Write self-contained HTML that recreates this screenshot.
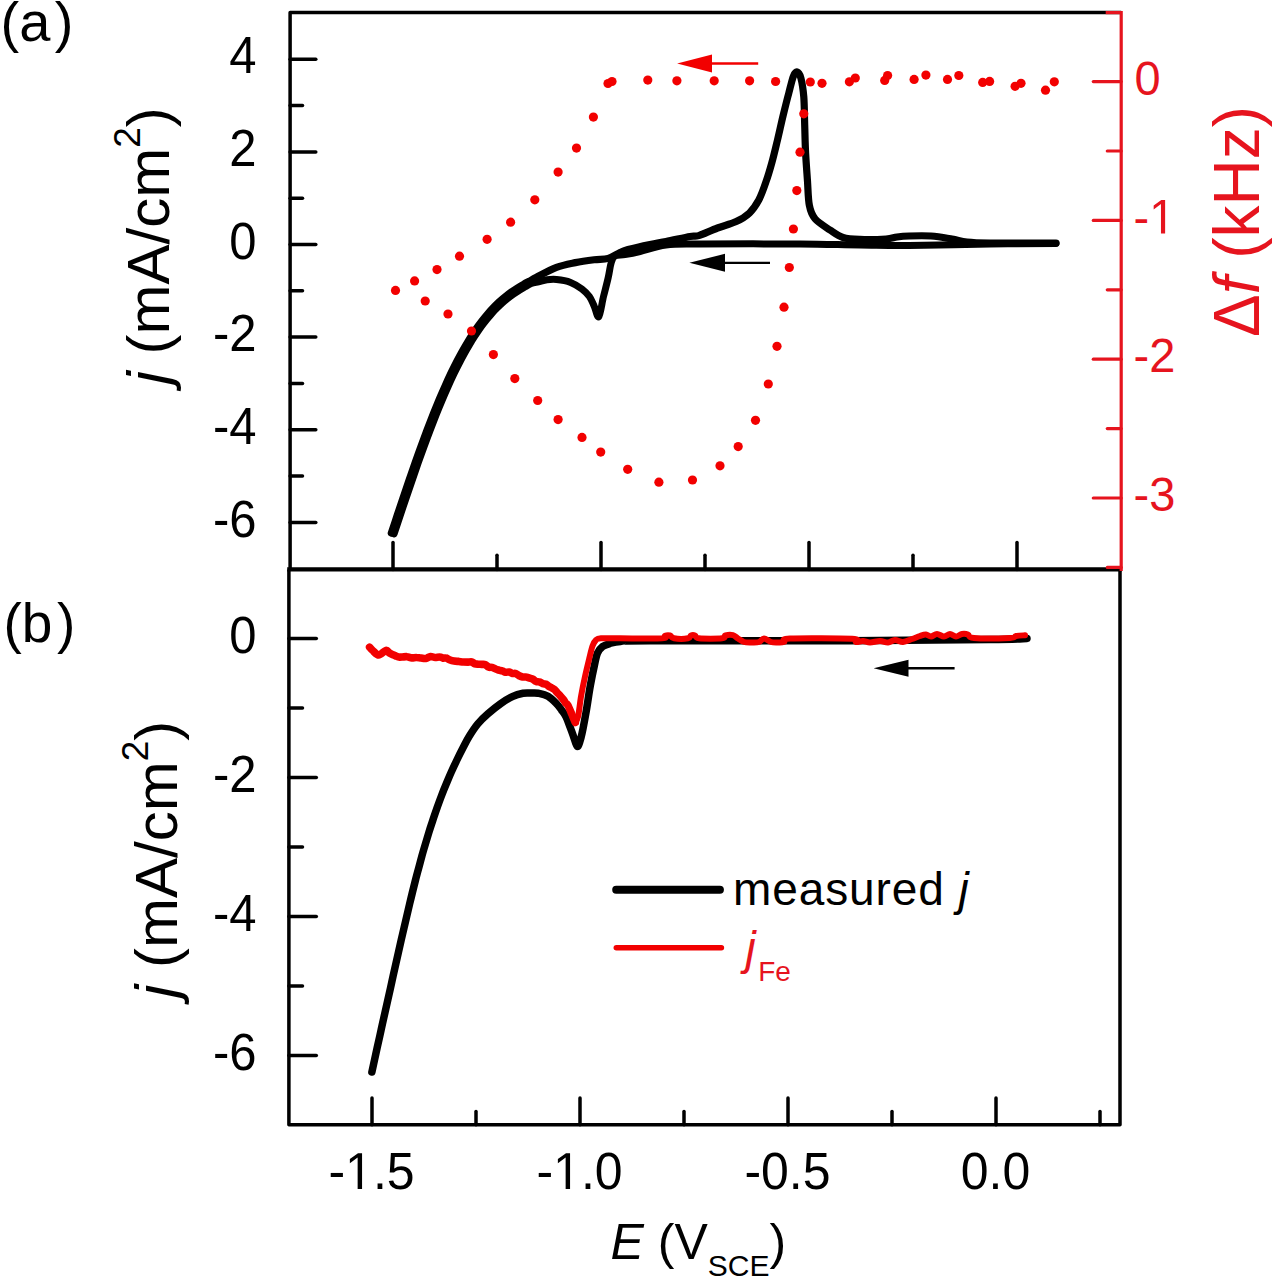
<!DOCTYPE html>
<html><head><meta charset="utf-8"><style>
html,body{margin:0;padding:0;background:#fff;}
svg{display:block;font-family:"Liberation Sans",sans-serif;}
</style></head><body>
<svg width="1275" height="1280" viewBox="0 0 1275 1280">
<rect width="1275" height="1280" fill="#fff"/>
<path d="M290.1,569.4 L290.1,12.6 L1121.2,12.6" fill="none" stroke="#000" stroke-width="3.5" stroke-linejoin="round" stroke-linecap="butt"/>
<path d="M288.9,569.4 L288.9,1124.8 L1120.0,1124.8 L1120.0,569.4" fill="none" stroke="#000" stroke-width="3.5" stroke-linejoin="round" stroke-linecap="butt"/>
<line x1="287.2" y1="569.4" x2="1121.7" y2="569.4" stroke="#000" stroke-width="4.3" stroke-linecap="butt"/>
<line x1="1121.2" y1="11.0" x2="1121.2" y2="571.0" stroke="#e6141e" stroke-width="3.2" stroke-linecap="butt"/>
<line x1="290.1" y1="522.4" x2="315.8" y2="522.4" stroke="#000" stroke-width="3.5" stroke-linecap="round"/>
<line x1="290.1" y1="476.1" x2="302.5" y2="476.1" stroke="#000" stroke-width="3.5" stroke-linecap="round"/>
<line x1="290.1" y1="429.8" x2="315.8" y2="429.8" stroke="#000" stroke-width="3.5" stroke-linecap="round"/>
<line x1="290.1" y1="383.5" x2="302.5" y2="383.5" stroke="#000" stroke-width="3.5" stroke-linecap="round"/>
<line x1="290.1" y1="337.1" x2="315.8" y2="337.1" stroke="#000" stroke-width="3.5" stroke-linecap="round"/>
<line x1="290.1" y1="290.8" x2="302.5" y2="290.8" stroke="#000" stroke-width="3.5" stroke-linecap="round"/>
<line x1="290.1" y1="244.5" x2="315.8" y2="244.5" stroke="#000" stroke-width="3.5" stroke-linecap="round"/>
<line x1="290.1" y1="198.2" x2="302.5" y2="198.2" stroke="#000" stroke-width="3.5" stroke-linecap="round"/>
<line x1="290.1" y1="151.9" x2="315.8" y2="151.9" stroke="#000" stroke-width="3.5" stroke-linecap="round"/>
<line x1="290.1" y1="105.5" x2="302.5" y2="105.5" stroke="#000" stroke-width="3.5" stroke-linecap="round"/>
<line x1="290.1" y1="59.2" x2="315.8" y2="59.2" stroke="#000" stroke-width="3.5" stroke-linecap="round"/>
<text transform="translate(229.25,73.42) scale(1,1.04)" font-size="49" fill="#000">4</text>
<text transform="translate(229.25,166.06) scale(1,1.04)" font-size="49" fill="#000">2</text>
<text transform="translate(229.25,258.70) scale(1,1.04)" font-size="49" fill="#000">0</text>
<text transform="translate(212.93,351.34) scale(1,1.04)" font-size="49" fill="#000">-2</text>
<text transform="translate(212.93,443.98) scale(1,1.04)" font-size="49" fill="#000">-4</text>
<text transform="translate(212.93,536.62) scale(1,1.04)" font-size="49" fill="#000">-6</text>
<line x1="393.0" y1="569.4" x2="393.0" y2="542.5" stroke="#000" stroke-width="3.5" stroke-linecap="round"/>
<line x1="497.0" y1="569.4" x2="497.0" y2="555.2" stroke="#000" stroke-width="3.5" stroke-linecap="round"/>
<line x1="601.0" y1="569.4" x2="601.0" y2="542.5" stroke="#000" stroke-width="3.5" stroke-linecap="round"/>
<line x1="705.0" y1="569.4" x2="705.0" y2="555.2" stroke="#000" stroke-width="3.5" stroke-linecap="round"/>
<line x1="809.0" y1="569.4" x2="809.0" y2="542.5" stroke="#000" stroke-width="3.5" stroke-linecap="round"/>
<line x1="913.0" y1="569.4" x2="913.0" y2="555.2" stroke="#000" stroke-width="3.5" stroke-linecap="round"/>
<line x1="1017.0" y1="569.4" x2="1017.0" y2="542.5" stroke="#000" stroke-width="3.5" stroke-linecap="round"/>
<line x1="1121.2" y1="567.4" x2="1107.3" y2="567.4" stroke="#e6141e" stroke-width="3.2" stroke-linecap="round"/>
<line x1="1121.2" y1="498.0" x2="1093.3" y2="498.0" stroke="#e6141e" stroke-width="3.2" stroke-linecap="round"/>
<line x1="1121.2" y1="428.6" x2="1107.3" y2="428.6" stroke="#e6141e" stroke-width="3.2" stroke-linecap="round"/>
<line x1="1121.2" y1="359.2" x2="1093.3" y2="359.2" stroke="#e6141e" stroke-width="3.2" stroke-linecap="round"/>
<line x1="1121.2" y1="289.8" x2="1107.3" y2="289.8" stroke="#e6141e" stroke-width="3.2" stroke-linecap="round"/>
<line x1="1121.2" y1="220.4" x2="1093.3" y2="220.4" stroke="#e6141e" stroke-width="3.2" stroke-linecap="round"/>
<line x1="1121.2" y1="151.0" x2="1107.3" y2="151.0" stroke="#e6141e" stroke-width="3.2" stroke-linecap="round"/>
<line x1="1121.2" y1="81.6" x2="1093.3" y2="81.6" stroke="#e6141e" stroke-width="3.2" stroke-linecap="round"/>
<line x1="1121.2" y1="12.6" x2="1105.7" y2="12.6" stroke="#e6141e" stroke-width="3.2" stroke-linecap="butt"/>
<text transform="translate(1134.50,94.80) scale(1,1.04)" font-size="47" fill="#e6141e">0</text>
<text transform="translate(1133.50,233.60) scale(1,1.04)" font-size="47" fill="#e6141e">-</text>
<path transform="translate(1149.15,233.60) scale(0.02295,-0.02387)" d="M515,0 L515,1237 L197,1010 L197,1180 L530,1409 L696,1409 L696,0 Z" fill="#e6141e"/>
<text transform="translate(1133.50,372.40) scale(1,1.04)" font-size="47" fill="#e6141e">-2</text>
<text transform="translate(1133.50,511.20) scale(1,1.04)" font-size="47" fill="#e6141e">-3</text>
<line x1="288.9" y1="1055.4" x2="316.3" y2="1055.4" stroke="#000" stroke-width="3.5" stroke-linecap="round"/>
<line x1="288.9" y1="985.9" x2="302.5" y2="985.9" stroke="#000" stroke-width="3.5" stroke-linecap="round"/>
<line x1="288.9" y1="916.4" x2="316.3" y2="916.4" stroke="#000" stroke-width="3.5" stroke-linecap="round"/>
<line x1="288.9" y1="846.9" x2="302.5" y2="846.9" stroke="#000" stroke-width="3.5" stroke-linecap="round"/>
<line x1="288.9" y1="777.5" x2="316.3" y2="777.5" stroke="#000" stroke-width="3.5" stroke-linecap="round"/>
<line x1="288.9" y1="708.0" x2="302.5" y2="708.0" stroke="#000" stroke-width="3.5" stroke-linecap="round"/>
<line x1="288.9" y1="638.5" x2="316.3" y2="638.5" stroke="#000" stroke-width="3.5" stroke-linecap="round"/>
<text transform="translate(229.25,652.70) scale(1,1.04)" font-size="49" fill="#000">0</text>
<text transform="translate(212.93,791.66) scale(1,1.04)" font-size="49" fill="#000">-2</text>
<text transform="translate(212.93,930.62) scale(1,1.04)" font-size="49" fill="#000">-4</text>
<text transform="translate(212.93,1069.58) scale(1,1.04)" font-size="49" fill="#000">-6</text>
<line x1="372.0" y1="1124.8" x2="372.0" y2="1098.0" stroke="#000" stroke-width="3.5" stroke-linecap="round"/>
<line x1="476.0" y1="1124.8" x2="476.0" y2="1111.5" stroke="#000" stroke-width="3.5" stroke-linecap="round"/>
<line x1="580.0" y1="1124.8" x2="580.0" y2="1098.0" stroke="#000" stroke-width="3.5" stroke-linecap="round"/>
<line x1="684.0" y1="1124.8" x2="684.0" y2="1111.5" stroke="#000" stroke-width="3.5" stroke-linecap="round"/>
<line x1="788.0" y1="1124.8" x2="788.0" y2="1098.0" stroke="#000" stroke-width="3.5" stroke-linecap="round"/>
<line x1="892.0" y1="1124.8" x2="892.0" y2="1111.5" stroke="#000" stroke-width="3.5" stroke-linecap="round"/>
<line x1="996.0" y1="1124.8" x2="996.0" y2="1098.0" stroke="#000" stroke-width="3.5" stroke-linecap="round"/>
<line x1="1100.0" y1="1124.8" x2="1100.0" y2="1111.5" stroke="#000" stroke-width="3.5" stroke-linecap="round"/>
<text transform="translate(328.42,1189.00) scale(1,1.04)" font-size="50" fill="#000">-</text>
<path transform="translate(345.07,1189.00) scale(0.02441,-0.02539)" d="M515,0 L515,1237 L197,1010 L197,1180 L530,1409 L696,1409 L696,0 Z" fill="#000"/>
<text transform="translate(372.88,1189.00) scale(1,1.04)" font-size="50" fill="#000">.5</text>
<text transform="translate(536.42,1189.00) scale(1,1.04)" font-size="50" fill="#000">-</text>
<path transform="translate(553.07,1189.00) scale(0.02441,-0.02539)" d="M515,0 L515,1237 L197,1010 L197,1180 L530,1409 L696,1409 L696,0 Z" fill="#000"/>
<text transform="translate(580.88,1189.00) scale(1,1.04)" font-size="50" fill="#000">.0</text>
<text transform="translate(744.42,1189.00) scale(1,1.04)" font-size="50" fill="#000">-0.5</text>
<text transform="translate(960.75,1189.00) scale(1,1.04)" font-size="50" fill="#000">0.0</text>
<text x="0.5" y="40.5" font-size="56" text-anchor="start" fill="#000" >(a<tspan dx="4.5">)</tspan></text>
<text x="3.5" y="642.0" font-size="55" text-anchor="start" fill="#000" >(b<tspan dx="4.5">)</tspan></text>
<text x="610.6" y="1259.0" font-size="50" text-anchor="start" fill="#000" ><tspan font-style="italic">E</tspan> (V<tspan font-size="30" dy="17">SCE</tspan><tspan dy="-17">)</tspan></text>
<text transform="translate(169.3,384.5) rotate(-90)" font-size="60" text-anchor="start"><tspan font-style="italic">j</tspan> (mA/cm<tspan font-size="37" dy="-29.3">2</tspan><tspan dy="29.3">)</tspan></text>
<text transform="translate(177.2,998) rotate(-90)" font-size="60" text-anchor="start"><tspan font-style="italic">j</tspan> (mA/cm<tspan font-size="37" dy="-29.3">2</tspan><tspan dy="29.3">)</tspan></text>
<text transform="translate(1258.5,337) rotate(-90)" font-size="64" text-anchor="start" fill="#e6141e">Δ<tspan font-style="italic">f</tspan> (kHz)</text>
<path d="M1056.0,243.5 C1045.0,243.6 1014.5,243.7 990.0,244.0 C965.5,244.3 930.7,245.3 909.0,245.5 C887.3,245.7 878.2,245.2 860.0,245.0 C841.8,244.8 826.7,244.2 800.0,244.0 C773.3,243.8 722.3,243.8 700.0,244.0 C677.7,244.2 676.0,243.8 666.0,245.0 C656.0,246.2 646.8,249.9 640.0,251.5 C633.2,253.1 629.2,253.8 625.0,254.5 C620.8,255.2 617.1,254.5 614.8,256.0 C612.5,257.5 612.1,259.9 611.0,263.5 C609.9,267.1 609.5,272.1 608.2,277.6 C607.0,283.1 605.1,290.0 603.5,296.5 C601.9,303.0 600.4,315.1 598.8,316.7 C597.2,318.3 595.7,309.3 594.1,305.9 C592.5,302.5 591.4,299.3 589.4,296.5 C587.4,293.7 585.0,291.4 581.9,289.0 C578.8,286.6 574.8,284.0 570.6,282.4 C566.4,280.8 560.4,279.9 556.5,279.5 C552.6,279.1 550.0,279.4 547.0,279.8 C544.0,280.2 541.1,281.2 538.5,281.8 C535.9,282.4 533.5,282.7 531.3,283.5 C529.1,284.3 527.3,285.6 525.3,286.7 C523.4,287.8 521.4,289.0 519.4,290.2 C517.4,291.5 515.5,292.8 513.5,294.2 C511.5,295.6 509.5,297.0 507.6,298.6 C505.6,300.2 503.6,301.9 501.6,303.7 C499.7,305.5 497.7,307.3 495.7,309.4 C493.7,311.4 491.8,313.6 489.8,315.9 C487.8,318.2 485.8,320.6 483.9,323.2 C481.9,325.8 479.9,328.6 477.9,331.5 C475.9,334.4 473.9,337.4 471.9,340.6 C470.0,343.8 468.0,347.2 466.0,350.7 C464.0,354.3 462.0,357.9 460.0,361.8 C458.0,365.6 456.0,369.6 454.0,373.7 C452.0,377.9 450.0,382.2 448.1,386.6 C446.1,391.0 444.1,395.6 442.1,400.4 C440.1,405.1 438.1,410.0 436.1,415.0 C434.1,420.0 432.1,425.2 430.1,430.4 C428.1,435.6 426.1,441.0 424.1,446.5 C422.1,451.9 420.1,457.5 418.1,463.2 C416.1,468.8 414.1,474.6 412.1,480.5 C410.1,486.3 408.1,492.1 406.1,498.0 C404.1,504.0 402.1,509.9 400.1,515.9 C398.1,521.9 395.1,531.0 394.1,534.0" fill="none" stroke="#000" stroke-width="7" stroke-linejoin="round" stroke-linecap="round" />
<path d="M391.3,533.1 C392.3,530.1 395.3,521.0 397.3,515.0 C399.3,509.0 401.3,503.0 403.3,497.1 C405.3,491.2 407.3,485.3 409.3,479.5 C411.3,473.7 413.3,467.8 415.3,462.2 C417.3,456.5 419.3,450.9 421.3,445.5 C423.3,440.0 425.3,434.6 427.3,429.3 C429.3,424.1 431.3,418.9 433.3,413.9 C435.3,408.9 437.3,404.0 439.3,399.2 C441.3,394.4 443.3,389.8 445.3,385.4 C447.3,380.9 449.3,376.6 451.3,372.4 C453.3,368.3 455.3,364.3 457.3,360.4 C459.4,356.5 461.4,352.8 463.4,349.3 C465.4,345.7 467.4,342.3 469.4,339.0 C471.4,335.8 473.4,332.7 475.4,329.8 C477.4,326.8 479.5,324.0 481.5,321.4 C483.5,318.8 485.5,316.3 487.5,314.0 C489.5,311.6 491.5,309.4 493.6,307.3 C495.6,305.2 497.6,303.3 499.6,301.4 C501.6,299.6 503.7,297.9 505.7,296.3 C507.7,294.7 509.7,293.2 511.7,291.7 C513.8,290.3 515.8,289.0 517.8,287.7 C519.8,286.4 521.8,285.2 523.9,284.1 C525.9,282.9 527.8,282.0 529.9,280.9 C532.0,279.7 532.1,279.5 536.5,277.2 C540.9,274.9 550.0,269.7 556.5,267.3 C563.0,264.9 569.0,263.9 575.3,262.6 C581.6,261.4 588.6,260.5 594.1,259.8 C599.6,259.1 603.9,259.6 608.2,258.4 C612.5,257.2 616.7,254.0 620.0,252.5 C623.3,251.0 623.0,250.8 628.0,249.5 C633.0,248.2 643.7,245.8 650.0,244.5 C656.3,243.2 659.3,242.8 666.0,241.5 C672.7,240.2 684.5,237.5 690.0,236.5 C695.5,235.5 694.2,237.0 698.8,235.6 C703.3,234.2 711.2,230.3 717.5,228.0 C723.8,225.7 730.9,224.1 736.2,221.6 C741.6,219.1 745.6,216.7 749.4,213.1 C753.1,209.5 755.9,205.3 758.8,200.0 C761.6,194.7 764.1,187.5 766.2,181.2 C768.4,175.0 770.0,169.4 771.9,162.5 C773.8,155.6 775.6,147.8 777.5,140.0 C779.4,132.2 781.2,123.4 783.1,115.6 C785.0,107.8 787.0,99.7 788.8,93.1 C790.5,86.5 792.0,79.8 793.4,76.2 C794.8,72.7 796.0,71.7 797.2,72.0 C798.5,72.3 799.8,73.9 800.9,78.1 C802.0,82.2 803.1,89.1 803.8,96.9 C804.4,104.7 804.4,115.7 804.7,125.0 C805.0,134.3 805.1,143.6 805.6,153.0 C806.1,162.4 806.9,172.5 807.5,181.2 C808.1,190.0 808.1,199.3 809.4,205.6 C810.6,211.8 811.6,214.7 815.0,218.8 C818.4,222.8 825.3,226.9 830.0,230.0 C834.7,233.1 838.0,235.9 843.0,237.5 C848.0,239.1 852.8,239.2 860.0,239.4 C867.2,239.7 879.8,239.4 886.0,239.0 C892.2,238.6 893.2,237.5 897.0,237.0 C900.8,236.5 903.3,236.2 909.0,236.0 C914.7,235.8 923.8,235.5 931.0,236.0 C938.2,236.5 946.0,238.0 952.0,239.0 C958.0,240.0 960.7,241.3 967.0,242.0 C973.3,242.7 975.2,242.8 990.0,243.0 C1004.8,243.2 1045.0,243.0 1056.0,243.0" fill="none" stroke="#000" stroke-width="7.2" stroke-linejoin="round" stroke-linecap="round" />
<circle cx="1054.3" cy="81.8" r="4.6" fill="#f20000"/>
<circle cx="1045.5" cy="90.2" r="4.6" fill="#f20000"/>
<circle cx="1021.0" cy="83.3" r="4.6" fill="#f20000"/>
<circle cx="1015.1" cy="86.3" r="4.6" fill="#f20000"/>
<circle cx="989.6" cy="81.4" r="4.6" fill="#f20000"/>
<circle cx="982.7" cy="82.4" r="4.6" fill="#f20000"/>
<circle cx="958.8" cy="75.5" r="4.6" fill="#f20000"/>
<circle cx="947.5" cy="79.4" r="4.6" fill="#f20000"/>
<circle cx="925.9" cy="75.1" r="4.6" fill="#f20000"/>
<circle cx="914.1" cy="79.4" r="4.6" fill="#f20000"/>
<circle cx="887.6" cy="75.5" r="4.6" fill="#f20000"/>
<circle cx="884.7" cy="80.4" r="4.6" fill="#f20000"/>
<circle cx="855.3" cy="78.0" r="4.6" fill="#f20000"/>
<circle cx="849.4" cy="81.8" r="4.6" fill="#f20000"/>
<circle cx="822.0" cy="83.3" r="4.6" fill="#f20000"/>
<circle cx="810.3" cy="82.0" r="4.6" fill="#f20000"/>
<circle cx="803.8" cy="113.8" r="4.6" fill="#f20000"/>
<circle cx="800.0" cy="152.2" r="4.6" fill="#f20000"/>
<circle cx="796.8" cy="190.6" r="4.6" fill="#f20000"/>
<circle cx="793.4" cy="229.0" r="4.6" fill="#f20000"/>
<circle cx="789.3" cy="267.5" r="4.6" fill="#f20000"/>
<circle cx="784.0" cy="307.2" r="4.6" fill="#f20000"/>
<circle cx="777.0" cy="346.3" r="4.6" fill="#f20000"/>
<circle cx="768.3" cy="384.0" r="4.6" fill="#f20000"/>
<circle cx="755.5" cy="420.3" r="4.6" fill="#f20000"/>
<circle cx="738.2" cy="446.6" r="4.6" fill="#f20000"/>
<circle cx="720.0" cy="465.8" r="4.6" fill="#f20000"/>
<circle cx="692.5" cy="480.0" r="4.6" fill="#f20000"/>
<circle cx="658.9" cy="482.2" r="4.6" fill="#f20000"/>
<circle cx="627.7" cy="469.3" r="4.6" fill="#f20000"/>
<circle cx="600.7" cy="452.1" r="4.6" fill="#f20000"/>
<circle cx="582.0" cy="437.4" r="4.6" fill="#f20000"/>
<circle cx="558.1" cy="419.6" r="4.6" fill="#f20000"/>
<circle cx="537.7" cy="400.5" r="4.6" fill="#f20000"/>
<circle cx="514.8" cy="378.6" r="4.6" fill="#f20000"/>
<circle cx="493.4" cy="354.6" r="4.6" fill="#f20000"/>
<circle cx="471.5" cy="331.0" r="4.6" fill="#f20000"/>
<circle cx="448.0" cy="314.0" r="4.6" fill="#f20000"/>
<circle cx="425.2" cy="301.0" r="4.6" fill="#f20000"/>
<circle cx="395.5" cy="290.4" r="4.6" fill="#f20000"/>
<circle cx="414.6" cy="280.9" r="4.6" fill="#f20000"/>
<circle cx="437.0" cy="269.6" r="4.6" fill="#f20000"/>
<circle cx="459.5" cy="256.2" r="4.6" fill="#f20000"/>
<circle cx="487.1" cy="239.3" r="4.6" fill="#f20000"/>
<circle cx="510.6" cy="222.2" r="4.6" fill="#f20000"/>
<circle cx="534.8" cy="199.8" r="4.6" fill="#f20000"/>
<circle cx="558.1" cy="172.1" r="4.6" fill="#f20000"/>
<circle cx="576.5" cy="148.1" r="4.6" fill="#f20000"/>
<circle cx="593.4" cy="117.1" r="4.6" fill="#f20000"/>
<circle cx="608.0" cy="83.5" r="4.6" fill="#f20000"/>
<circle cx="612.0" cy="81.5" r="4.6" fill="#f20000"/>
<circle cx="647.8" cy="80.1" r="4.6" fill="#f20000"/>
<circle cx="676.9" cy="80.8" r="4.6" fill="#f20000"/>
<circle cx="714.2" cy="80.8" r="4.6" fill="#f20000"/>
<circle cx="749.6" cy="80.8" r="4.6" fill="#f20000"/>
<circle cx="775.6" cy="81.5" r="4.6" fill="#f20000"/>
<line x1="711.0" y1="63.5" x2="758.2" y2="63.5" stroke="#f20000" stroke-width="2.3" stroke-linecap="butt"/>
<path d="M677.1,63.5 L712,54.6 L712,72.4 Z" fill="#f20000"/>
<line x1="724.0" y1="262.8" x2="770.0" y2="262.8" stroke="#000" stroke-width="2.3" stroke-linecap="butt"/>
<path d="M689.4,262.8 L725,253.8 L725,271.8 Z" fill="#000"/>
<path d="M371.9,1072.0 C372.3,1070.0 373.6,1064.0 374.5,1060.0 C375.4,1056.0 376.2,1052.0 377.1,1048.0 C378.0,1044.0 378.9,1040.0 379.8,1036.0 C380.7,1032.0 381.5,1028.0 382.4,1024.0 C383.3,1020.0 384.2,1016.0 385.1,1012.0 C386.0,1008.0 386.9,1004.0 387.8,1000.0 C388.7,996.0 389.6,992.0 390.5,988.0 C391.4,984.0 392.2,980.0 393.1,976.0 C394.0,972.0 394.9,968.0 395.8,964.0 C396.7,960.0 397.6,956.0 398.5,952.0 C399.4,948.0 400.3,944.0 401.2,940.0 C402.1,936.0 403.1,932.0 404.0,928.0 C404.9,924.0 405.9,920.0 406.8,916.0 C407.7,912.0 408.7,908.0 409.6,904.0 C410.6,900.0 411.5,896.0 412.5,892.0 C413.5,888.0 414.5,884.0 415.5,880.0 C416.5,876.0 417.6,872.0 418.7,868.0 C419.8,864.0 420.8,860.0 421.9,856.0 C423.0,852.0 424.2,848.0 425.4,844.0 C426.6,840.0 427.8,836.0 429.0,832.0 C430.2,828.0 431.6,824.0 432.9,820.0 C434.2,816.0 435.6,812.0 437.0,808.0 C438.4,804.0 439.9,800.0 441.4,796.0 C442.9,792.0 444.5,788.0 446.2,784.0 C447.9,780.0 449.5,776.0 451.3,772.0 C453.1,768.0 455.0,764.0 456.9,760.0 C458.8,756.0 460.8,752.0 462.9,748.0 C465.0,744.0 466.9,740.0 469.4,736.0 C471.9,732.0 474.7,727.6 477.8,723.9 C480.9,720.2 484.0,717.2 487.8,713.9 C491.6,710.5 496.2,706.7 500.4,703.8 C504.6,700.9 509.1,698.1 512.9,696.3 C516.7,694.5 520.0,693.8 523.0,693.2 C526.0,692.7 528.6,693.0 531.1,693.0 C533.6,693.0 535.2,692.7 538.0,693.2 C540.8,693.8 544.9,694.5 548.0,696.3 C551.1,698.1 554.5,701.7 556.8,704.0 C559.0,706.3 560.0,707.9 561.5,710.0 C563.0,712.1 564.4,713.6 565.8,716.4 C567.2,719.2 568.7,723.5 569.9,726.6 C571.1,729.7 572.1,732.4 573.0,735.0 C573.9,737.6 574.8,740.6 575.5,742.5 C576.2,744.4 576.8,746.5 577.5,746.5 C578.2,746.5 578.8,744.8 579.6,742.5 C580.4,740.2 581.0,738.2 582.1,733.0 C583.2,727.8 584.8,719.2 586.2,711.3 C587.6,703.4 588.9,693.4 590.3,685.8 C591.7,678.1 593.2,670.8 594.4,665.4 C595.6,660.0 596.0,656.4 597.4,653.2 C598.8,650.1 600.5,648.1 602.6,646.5 C604.7,644.9 607.0,644.3 610.0,643.5 C613.0,642.7 613.9,642.0 620.6,641.5 C627.3,641.0 611.8,640.9 650.0,640.8 C688.2,640.7 793.3,641.0 850.0,640.8 C906.7,640.6 960.5,639.9 990.0,639.5 C1019.5,639.1 1020.8,638.7 1027.0,638.5" fill="none" stroke="#000" stroke-width="7.5" stroke-linejoin="round" stroke-linecap="round" />
<path d="M369.6,647.2 C370.1,647.8 371.2,649.2 372.7,650.5 C374.2,651.8 376.6,655.0 378.8,655.0 C381.0,655.0 384.1,650.8 385.9,650.4 C387.7,650.1 388.3,652.3 389.4,653.0 C390.6,653.8 391.9,654.3 393.0,654.8 C394.1,655.3 395.1,655.7 396.1,656.1 C397.2,656.5 398.2,656.9 399.3,657.1 C400.3,657.2 401.1,657.1 402.4,657.0 C403.7,656.9 405.5,656.5 407.1,656.7 C408.7,656.8 410.2,657.8 411.8,657.9 C413.4,658.0 414.9,657.4 416.5,657.5 C418.1,657.5 419.6,657.9 421.2,658.0 C422.8,658.2 424.3,658.7 425.9,658.4 C427.5,658.2 429.0,656.7 430.6,656.5 C432.2,656.4 433.7,657.4 435.3,657.5 C436.9,657.5 438.7,656.9 440.0,657.1 C441.3,657.2 442.1,658.0 443.1,658.2 C444.2,658.3 445.2,657.8 446.3,658.1 C447.3,658.3 448.1,659.2 449.4,659.7 C450.7,660.2 452.5,660.8 454.1,661.1 C455.7,661.4 457.2,661.3 458.8,661.4 C460.4,661.6 461.9,661.9 463.5,662.0 C465.1,662.1 466.8,662.1 468.2,662.1 C469.6,662.1 470.5,661.5 471.6,661.8 C472.7,662.1 473.9,663.5 475.0,663.9 C476.1,664.3 477.3,664.1 478.4,664.2 C479.5,664.3 480.7,664.3 481.8,664.4 C482.9,664.4 484.1,664.1 485.2,664.6 C486.3,665.0 487.5,666.6 488.6,667.1 C489.7,667.6 490.9,667.1 492.0,667.4 C493.1,667.7 494.3,668.4 495.4,668.9 C496.5,669.4 497.7,669.8 498.8,670.2 C499.9,670.5 501.1,670.5 502.2,670.9 C503.3,671.2 504.5,672.1 505.6,672.3 C506.7,672.4 507.9,671.8 509.0,672.0 C510.1,672.2 511.3,673.2 512.4,673.4 C513.5,673.7 514.7,673.1 515.8,673.5 C516.9,673.9 518.1,675.2 519.2,675.8 C520.3,676.3 521.5,676.8 522.6,677.0 C523.7,677.2 524.9,676.8 526.0,677.0 C527.1,677.1 528.3,677.7 529.4,678.0 C530.5,678.4 531.7,678.6 532.8,679.2 C533.9,679.8 535.1,681.1 536.2,681.5 C537.3,682.0 538.5,681.6 539.6,682.0 C540.7,682.3 541.9,683.2 543.0,683.7 C544.1,684.1 545.4,684.0 546.4,684.4 C547.4,684.9 548.2,685.9 549.1,686.5 C550.0,687.1 551.0,687.5 551.9,688.0 C552.8,688.5 553.8,688.9 554.6,689.6 C555.5,690.4 556.2,691.6 557.0,692.4 C557.8,693.3 558.5,693.9 559.3,694.8 C560.1,695.7 561.0,696.8 561.7,697.7 C562.4,698.6 563.1,699.1 563.8,700.1 C564.5,701.0 565.1,702.4 565.8,703.2 C566.5,704.1 566.9,703.3 567.9,705.2 C568.9,707.1 570.7,711.5 571.9,714.4 C573.1,717.3 574.7,721.1 575.3,722.5" fill="none" stroke="#f20000" stroke-width="7.6" stroke-linejoin="round" stroke-linecap="round" />
<path d="M575.3,722.5 C575.8,721.5 577.1,720.8 578.1,716.4 C579.1,712.0 579.9,702.8 581.1,696.0 C582.3,689.2 583.8,681.9 585.2,675.6 C586.6,669.3 588.1,663.2 589.3,658.3 C590.5,653.4 591.4,649.0 592.5,646.0 C593.6,643.0 594.6,641.3 596.0,640.0 C597.4,638.7 597.0,638.6 601.0,638.3 C605.0,638.0 609.8,638.3 620.0,638.3 C630.2,638.3 654.5,638.7 662.0,638.3 C669.5,637.9 663.7,636.3 665.0,635.8 C666.3,635.3 668.5,635.1 670.0,635.5 C671.5,635.9 671.0,637.8 674.0,638.3 C677.0,638.8 685.2,638.8 688.0,638.3 C690.8,637.8 689.8,636.0 691.0,635.5 C692.2,635.0 693.7,635.0 695.0,635.5 C696.3,636.0 694.5,637.8 699.0,638.3 C703.5,638.8 717.6,638.8 722.0,638.3 C726.4,637.8 723.7,636.0 725.5,635.5 C727.3,635.0 730.9,634.7 733.0,635.2 C735.1,635.7 736.2,637.4 738.0,638.5 C739.8,639.6 741.7,641.3 744.0,642.0 C746.3,642.7 749.5,642.5 752.0,642.5 C754.5,642.5 757.0,642.7 759.0,642.0 C761.0,641.3 762.0,638.5 764.0,638.5 C766.0,638.5 768.7,641.3 771.0,642.0 C773.3,642.7 775.8,642.5 778.0,642.5 C780.2,642.5 782.0,642.7 784.0,642.0 C786.0,641.3 778.7,639.0 790.0,638.5 C801.3,638.0 841.0,638.2 852.0,638.8 C863.0,639.4 854.2,641.6 856.0,642.0 C857.8,642.4 860.7,640.9 863.0,641.0 C865.3,641.1 867.2,642.5 870.0,642.5 C872.8,642.5 877.0,641.0 880.0,641.0 C883.0,641.0 885.5,642.7 888.0,642.5 C890.5,642.3 892.5,640.1 895.0,640.0 C897.5,639.9 900.2,642.2 903.0,642.0 C905.8,641.8 909.2,640.0 912.0,639.0 C914.8,638.0 917.7,636.8 920.0,636.0 C922.3,635.2 924.2,634.4 926.0,634.5 C927.8,634.6 929.2,636.6 931.0,636.5 C932.8,636.4 934.8,634.0 937.0,634.0 C939.2,634.0 941.8,636.5 944.0,636.5 C946.2,636.5 948.0,634.0 950.0,634.0 C952.0,634.0 954.0,636.5 956.0,636.5 C958.0,636.5 960.0,634.3 962.0,634.0 C964.0,633.7 966.0,633.8 968.0,634.5 C970.0,635.2 967.0,637.4 974.0,638.0 C981.0,638.6 1003.0,638.3 1010.0,638.0 C1017.0,637.7 1013.5,636.5 1016.0,636.0 C1018.5,635.5 1023.5,635.4 1025.0,635.3" fill="none" stroke="#f20000" stroke-width="6.0" stroke-linejoin="round" stroke-linecap="round" />
<line x1="907.5" y1="668.3" x2="954.6" y2="668.3" stroke="#000" stroke-width="2.6" stroke-linecap="butt"/>
<path d="M873.6,668.3 L908.5,659.8 L908.5,676.8 Z" fill="#000"/>
<line x1="616.2" y1="889.7" x2="719.9" y2="889.7" stroke="#000" stroke-width="8" stroke-linecap="round"/>
<line x1="616.3" y1="947.8" x2="721.4" y2="947.8" stroke="#f20000" stroke-width="5.5" stroke-linecap="round"/>
<text x="733.0" y="905.3" font-size="46" text-anchor="start" fill="#000" letter-spacing="0.9">measured <tspan font-style="italic">j</tspan></text>
<text x="745.5" y="963.5" font-size="46" text-anchor="start" fill="#e6141e" ><tspan font-style="italic">j</tspan><tspan font-size="28" dx="2.5" dy="17">Fe</tspan></text>
</svg></body></html>
